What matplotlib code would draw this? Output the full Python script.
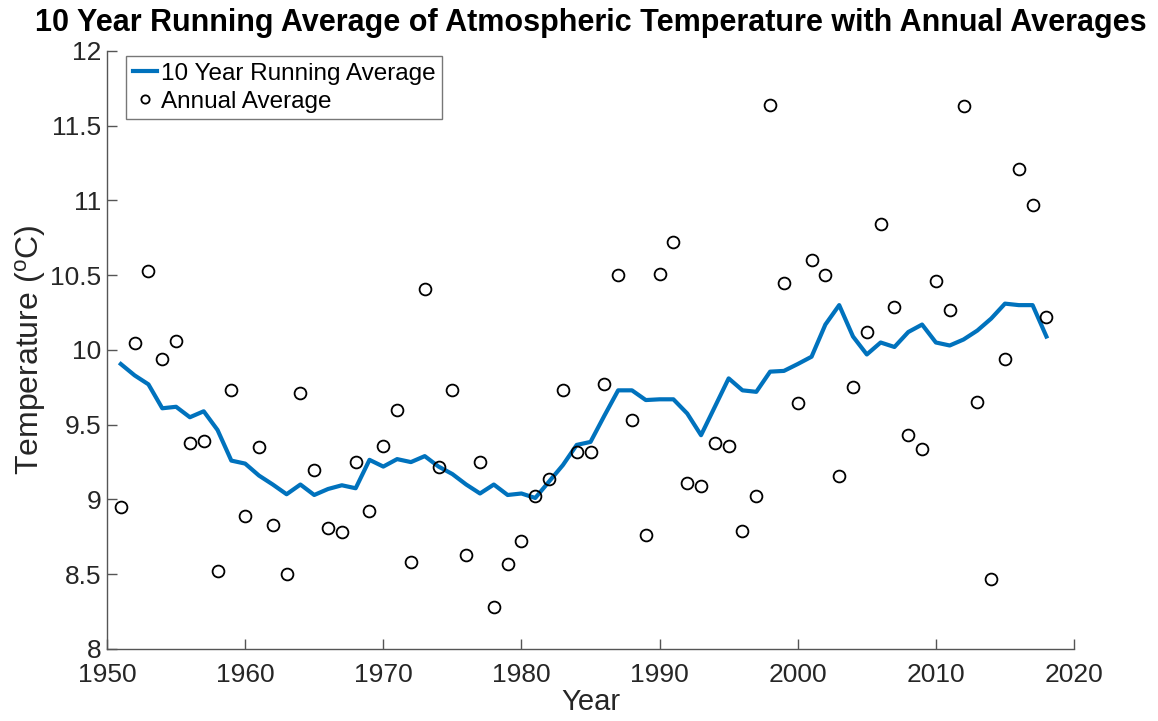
import matplotlib
matplotlib.use("Agg")
import matplotlib.pyplot as plt
import numpy as np

# annual average temperatures
years = list(range(1951, 2019))
annual = [8.95, 10.045, 10.53, 9.94, 10.06, 9.38, 9.39, 8.52, 9.73, 8.89,
          9.35, 8.83, 8.50, 9.71, 9.20, 8.81, 8.785, 9.25, 8.925, 9.355,
          9.60, 8.58, 10.41, 9.215, 9.73, 8.63, 9.25, 8.28, 8.57, 8.72,
          9.02, 9.14, 9.73, 9.32, 9.32, 9.77, 10.50, 9.53, 8.76, 10.51,
          10.72, 9.11, 9.09, 9.38, 9.36, 8.79, 9.02, 11.64, 10.45, 9.645,
          10.60, 10.50, 9.16, 9.75, 10.12, 10.84, 10.29, 9.43, 9.34, 10.46,
          10.27, 11.63, 9.65, 8.47, 9.94, 11.21, 10.97, 10.22]

# 10 year running average
running = [9.906, 9.83, 9.77, 9.61, 9.62, 9.55, 9.59, 9.465, 9.26, 9.24,
           9.16, 9.10, 9.035, 9.10, 9.03, 9.07, 9.095, 9.075, 9.265, 9.22,
           9.27, 9.25, 9.29, 9.22, 9.17, 9.10, 9.04, 9.10, 9.03, 9.04,
           9.01, 9.12, 9.23, 9.365, 9.385, 9.56, 9.73, 9.73, 9.665, 9.67,
           9.67, 9.575, 9.43, 9.62, 9.81, 9.73, 9.72, 9.855, 9.86, 9.906,
           9.955, 10.17, 10.30, 10.09, 9.97, 10.05, 10.02, 10.12, 10.17, 10.05,
           10.03, 10.07, 10.13, 10.21, 10.31, 10.30, 10.30, 10.09]

plt.rcParams['font.family'] = 'Liberation Sans'
plt.rcParams['mathtext.fontset'] = 'custom'
plt.rcParams['mathtext.rm'] = 'Liberation Sans'
plt.rcParams['mathtext.it'] = 'Liberation Sans'

fig = plt.figure(figsize=(11.58, 7.21), dpi=100)
ax = fig.add_axes([0.0924, 0.0999, 0.8351, 0.8294])

ax.plot(years, running, color='#0072BD', linewidth=3, label='10 Year Running Average')
ax.plot(years, annual, 'o', markerfacecolor='none', markeredgecolor='black',
        markersize=8.5, markeredgewidth=1.3, label='Annual Average')

ax.set_xlim(1950, 2020)
ax.set_ylim(8, 12)
ax.set_xticks(range(1950, 2021, 10))
ax.set_yticks([8, 8.5, 9, 9.5, 10, 10.5, 11, 11.5, 12])
ax.set_yticklabels(['8', '8.5', '9', '9.5', '10', '10.5', '11', '11.5', '12'])

for s in ['top', 'right']:
    ax.spines[s].set_visible(False)
for s in ['left', 'bottom']:
    ax.spines[s].set_color('#555555')
    ax.spines[s].set_linewidth(1.0)
ax.tick_params(direction='in', length=7, width=1.0, color='#555555',
               labelsize=19, labelcolor='#262626')
ax.tick_params(axis='x', pad=10)
ax.tick_params(axis='y', pad=4)

ax.set_xlabel('Year', fontsize=21, color='#262626', labelpad=1)
ax.set_ylabel('Temperature ($^{\\mathrm{o}}$C)', fontsize=23, color='#262626', labelpad=2)
fig.text(0.5104, 0.957,
         '10 Year Running Average of Atmospheric Temperature with Annual Averages',
         fontsize=22, fontweight='bold', ha='center', va='baseline')

leg = ax.legend(loc='upper left', bbox_to_anchor=(0.0197, 0.992), fontsize=17.5,
                frameon=True, fancybox=False, edgecolor='#555555',
                handlelength=1.0, handletextpad=0.15, markerscale=0.7,
                borderpad=0.28, labelspacing=0.25, borderaxespad=0.0)
leg.get_frame().set_linewidth(1.0)

fig.savefig('out.png', dpi=100)
